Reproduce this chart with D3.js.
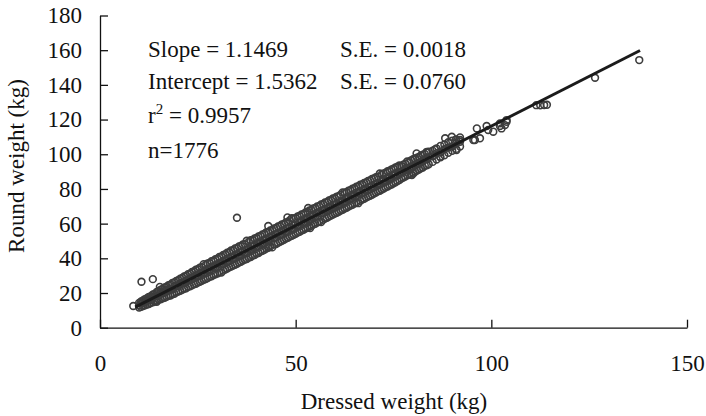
<!DOCTYPE html>
<html lang="en">
<head>
<meta charset="UTF-8">
<title>Round vs dressed weight</title>
<style>
  body { margin: 0; background: #fff; }
  text { font-family: "Liberation Serif", "Times New Roman", serif; fill: #111; }
</style>
</head>
<body>
<div id="chart"></div>
<script src="https://d3js.org/d3.v7.min.js"></script>
<script>

// regression summary printed on the chart
var slope = 1.1469, slopeSE = 0.0018;
var intercept = 1.5362, interceptSE = 0.0760;
var r2 = 0.9957, nFish = 1776;
var fitRange = [9, 138];   // dressed weight span of the fitted line

var xTicks = [0, 50, 100, 150];
var yTicks = [0, 20, 40, 60, 80, 100, 120, 140, 160, 180];

// dense part of the cloud: [dressed kg, round kg (low edge), round kg (middle), round kg (high edge)]
var denseRows = [
  [10, 11.6, 12.8, 14.3], [10.5, 12.0, 13.9, 15.1], [11, 12.5, 14.4, 15.7], [11.5, 12.9, 14.5, 16.5],
  [12, 13.4, 15.6, 17.0], [12.5, 13.7, 16.2, 17.8], [13, 14.3, 16.0, 18.2], [13.5, 14.6, 17.4, 19.1],
  [14, 15.1, 18.0, 19.5], [14.5, 15.6, 18.5, 20.6], [15, 16.2, 18.4, 21.0], [15.5, 16.4, 19.8, 21.9],
  [16, 16.9, 20.4, 22.3], [16.5, 17.3, 20.1, 23.2], [17, 17.8, 21.5, 23.6], [17.5, 18.4, 22.0, 24.5],
  [18, 18.6, 22.5, 24.8], [18.5, 19.3, 22.3, 25.8], [19, 19.6, 23.8, 26.1], [19.5, 20.4, 24.3, 27.0],
  [20, 20.8, 24.1, 27.4], [20.5, 21.3, 25.6, 28.3], [21, 21.8, 26.0, 28.7], [21.5, 22.5, 25.8, 29.6],
  [22, 22.7, 27.3, 29.9], [22.5, 23.6, 27.7, 30.9], [23, 23.9, 28.5, 31.2], [23.5, 24.4, 28.1, 32.1],
  [24, 25.0, 29.6, 32.4], [24.5, 25.3, 30.1, 33.4], [25, 26.1, 30.0, 33.7], [25.5, 26.5, 31.3, 34.6],
  [26, 27.0, 31.9, 34.9], [26.5, 27.7, 31.6, 36.6], [27, 28.1, 33.0, 36.2], [27.5, 28.6, 33.6, 37.1],
  [28, 29.3, 33.4, 37.3], [28.5, 29.6, 34.8, 38.4], [29, 30.4, 35.3, 38.6], [29.5, 30.8, 35.0, 39.5],
  [30, 31.3, 36.4, 39.8], [30.5, 31.9, 37.0, 40.8], [31, 31.8, 36.8, 41.0], [31.5, 32.9, 38.2, 42.0],
  [32, 33.6, 38.7, 42.3], [32.5, 34.1, 38.5, 43.3], [33, 34.8, 39.9, 43.5], [33.5, 35.2, 40.5, 44.5],
  [34, 35.9, 40.3, 44.7], [34.5, 36.3, 41.6, 45.7], [35, 36.9, 42.1, 45.9], [35.5, 37.6, 41.9, 46.9],
  [36, 38.0, 43.4, 47.1], [36.5, 38.7, 43.9, 48.0], [37, 39.3, 43.6, 48.2], [37.5, 39.6, 45.0, 50.1],
  [38, 40.4, 45.5, 49.4], [38.5, 40.8, 45.2, 50.4], [39, 41.6, 46.7, 50.6], [39.5, 41.9, 47.3, 51.5],
  [40, 42.7, 47.0, 51.7], [40.5, 43.1, 48.5, 52.6], [41, 43.9, 49.0, 52.9], [41.5, 44.3, 48.8, 53.8],
  [42, 44.9, 50.2, 54.0], [42.5, 45.6, 50.8, 55.0], [43, 46.1, 50.5, 55.1], [43.5, 46.8, 51.9, 56.1],
  [44, 46.3, 52.5, 56.3], [44.5, 47.9, 52.2, 57.2], [45, 48.3, 53.7, 57.5], [45.5, 49.0, 54.2, 58.4],
  [46, 49.6, 53.9, 58.6], [46.5, 50.1, 55.4, 59.6], [47, 50.7, 56.0, 59.8], [47.5, 51.4, 55.7, 60.7],
  [48, 51.8, 57.1, 60.9], [48.5, 52.5, 57.7, 61.9], [49, 53.0, 57.4, 63.1], [49.5, 53.6, 58.9, 63.0],
  [50, 54.2, 59.4, 63.2], [50.5, 54.8, 59.1, 64.1], [51, 55.3, 60.6, 64.4], [51.5, 56.0, 61.1, 65.3],
  [52, 56.5, 60.8, 65.5], [52.5, 57.2, 62.3, 66.4], [53, 57.6, 62.9, 66.7], [53.5, 58.4, 62.6, 67.6],
  [54, 58.8, 64.0, 67.8], [54.5, 59.5, 64.6, 68.7], [55, 59.9, 64.3, 69.0], [55.5, 60.7, 65.8, 69.9],
  [56, 61.1, 66.3, 70.1], [56.5, 60.9, 66.0, 71.0], [57, 62.2, 67.5, 71.3], [57.5, 63.0, 68.0, 72.2],
  [58, 63.4, 67.7, 72.4], [58.5, 64.1, 69.2, 73.3], [59, 64.6, 69.7, 73.6], [59.5, 65.2, 69.4, 74.5],
  [60, 65.8, 70.8, 74.7], [60.5, 66.3, 71.4, 75.6], [61, 66.9, 71.1, 75.8], [61.5, 67.6, 72.6, 76.7],
  [62, 68.0, 73.1, 78.0], [62.5, 68.7, 72.8, 77.9], [63, 69.2, 74.3, 78.1], [63.5, 69.8, 74.8, 79.0],
  [64, 70.4, 74.5, 79.3], [64.5, 70.9, 76.0, 80.1], [65, 71.6, 76.5, 80.4], [65.5, 72.0, 76.2, 81.3],
  [66, 71.8, 77.7, 81.5], [66.5, 73.2, 78.2, 82.4], [67, 73.9, 77.9, 82.6], [67.5, 74.3, 79.4, 83.5],
  [68, 75.0, 79.9, 83.8], [68.5, 75.6, 79.6, 84.6], [69, 76.1, 81.1, 84.9], [69.5, 76.7, 81.6, 85.8],
  [70, 77.3, 81.3, 86.0], [70.5, 77.9, 82.8, 86.8], [71, 78.6, 83.3, 87.1], [71.5, 79.0, 83.0, 88.9],
  [72, 79.7, 84.5, 88.3], [72.5, 80.2, 85.0, 89.0], [73, 80.9, 84.7, 89.4], [73.5, 81.4, 86.2, 90.2],
  [74, 82.1, 86.7, 90.5], [74.5, 82.6, 86.4, 91.3], [75, 83.3, 87.9, 91.7], [75.5, 83.9, 88.4, 92.4],
  [76, 84.6, 88.1, 92.8], [76.5, 85.1, 89.3, 93.5], [77, 86.0, 89.4, 93.1], [77.5, 86.6, 90.1, 94.0],
  [78, 87.2, 91.5, 94.6], [78.5, 87.9, 91.9, 95.8], [79, 88.5, 92.4, 95.4], [79.5, 88.2, 92.6, 96.5],
  [80, 89.4, 93.0, 97.2], [80.5, 89.9, 93.8, 97.6], [81, 90.6, 94.9, 98.0], [81.5, 91.2, 94.5, 98.5],
  [82, 91.9, 95.2, 99.3], [82.5, 92.3, 96.4, 99.8], [83, 93.4, 97.1, 100.2], [83.5, 93.6, 97.3, 101.0],
  [84, 94.2, 98.3, 101.5], [85, 95.6, 98.8, 102.1], [86, 97.0, 100.6, 103.4], [87, 98.3, 101.0, 104.8],
  [88, 99.4, 102.9, 105.6], [89, 100.8, 103.9, 106.9], [90, 102.0, 104.5, 107.8], [91, 103.1, 106.3, 108.6],
  [92, 104.5, 107.2, 109.7]
];

// loose points off the band and along the upper end: [dressed kg, round kg]
var loosePoints = [
  [8.5, 12.5], [10.6, 26.5], [13.5, 28.0], [14.5, 15.0], [15.3, 23.5], [35.0, 63.4],
  [43.0, 58.6], [43.0, 47.0], [47.9, 63.6], [53.2, 69.0], [53.7, 57.5],
  [79.7, 88.0], [80.1, 89.0], [80.9, 100.5], [83.5, 101.4], [85.6, 102.8], [86.9, 98.6],
  [88.2, 109.2], [89.9, 110.1], [91.1, 102.4], [92.0, 108.2], [95.4, 108.2], [95.8, 108.2],
  [96.3, 114.9], [97.1, 109.2], [98.8, 116.3], [99.2, 114.0], [100.5, 113.0], [102.2, 117.8],
  [102.2, 116.3], [102.6, 114.9], [103.5, 116.8], [103.9, 118.7], [103.9, 119.7],
  [111.5, 128.3], [112.5, 128.2], [113.5, 128.4], [114.2, 128.5],
  [126.5, 144.1], [137.8, 154.3]
];

var points = [];
denseRows.forEach(function(row) {
  row.slice(1).forEach(function(v) { points.push([row[0], v]); });
});
loosePoints.forEach(function(p) { points.push(p); });

var W = 706, H = 416;
var svg = d3.select("#chart").append("svg")
  .attr("width", W).attr("height", H);

var x = d3.scaleLinear().domain([0, 150]).range([100, 687]);
var y = d3.scaleLinear().domain([0, 180]).range([327.7, 15.5]);

// axes, ticks pointing inward
var xAxis = svg.append("g")
  .attr("transform", "translate(0," + y(0) + ")")
  .call(d3.axisBottom(x).tickValues(xTicks).tickSizeInner(-8).tickSizeOuter(0).tickPadding(27));
var yAxis = svg.append("g")
  .attr("transform", "translate(" + x(0) + ",0)")
  .call(d3.axisLeft(y).tickValues(yTicks).tickSizeInner(-8).tickSizeOuter(0).tickPadding(18));

[xAxis, yAxis].forEach(function(g) {
  g.selectAll("path, line").attr("stroke", "#111").attr("stroke-width", 1.3);
  g.selectAll("text").style("font-size", "23px").attr("fill", "#111")
    .style("font-family", "'Liberation Serif', 'Times New Roman', serif");
});

// points
svg.append("g")
  .selectAll("circle")
  .data(points)
  .enter()
  .append("circle")
    .attr("cx", function(d) { return x(d[0]); })
    .attr("cy", function(d) { return y(d[1]); })
    .attr("r", 3.4)
    .attr("fill", "none")
    .attr("stroke", "#3d3d3d")
    .attr("stroke-width", 1.6);

// fitted line
svg.append("line")
  .attr("x1", x(fitRange[0])).attr("y1", y(intercept + slope * fitRange[0]))
  .attr("x2", x(fitRange[1])).attr("y2", y(intercept + slope * fitRange[1]))
  .attr("stroke", "#1b1b1b")
  .attr("stroke-width", 3);

// axis titles
svg.append("text")
  .attr("x", 394).attr("y", 409)
  .attr("text-anchor", "middle")
  .style("font-size", "23px")
  .text("Dressed weight (kg)");

svg.append("text")
  .attr("transform", "translate(24,166) rotate(-90)")
  .attr("text-anchor", "middle")
  .style("font-size", "23px")
  .text("Round weight (kg)");

// regression annotation
var ann = svg.append("g").style("font-size", "23px");
ann.append("text").attr("x", 148).attr("y", 56.7).text("Slope = " + slope.toFixed(4));
ann.append("text").attr("x", 340).attr("y", 56.7).text("S.E. = " + slopeSE.toFixed(4));
ann.append("text").attr("x", 148).attr("y", 89.3).text("Intercept = " + intercept.toFixed(4));
ann.append("text").attr("x", 340).attr("y", 89.3).text("S.E. = " + interceptSE.toFixed(4));
var r2Text = ann.append("text").attr("x", 148).attr("y", 123.3);
r2Text.append("tspan").text("r");
r2Text.append("tspan").attr("dy", -9).style("font-size", "15px").text("2");
r2Text.append("tspan").attr("dy", 9).text(" = " + r2.toFixed(4));
ann.append("text").attr("x", 148).attr("y", 157.7).text("n=" + nFish);

</script>
</body>
</html>
